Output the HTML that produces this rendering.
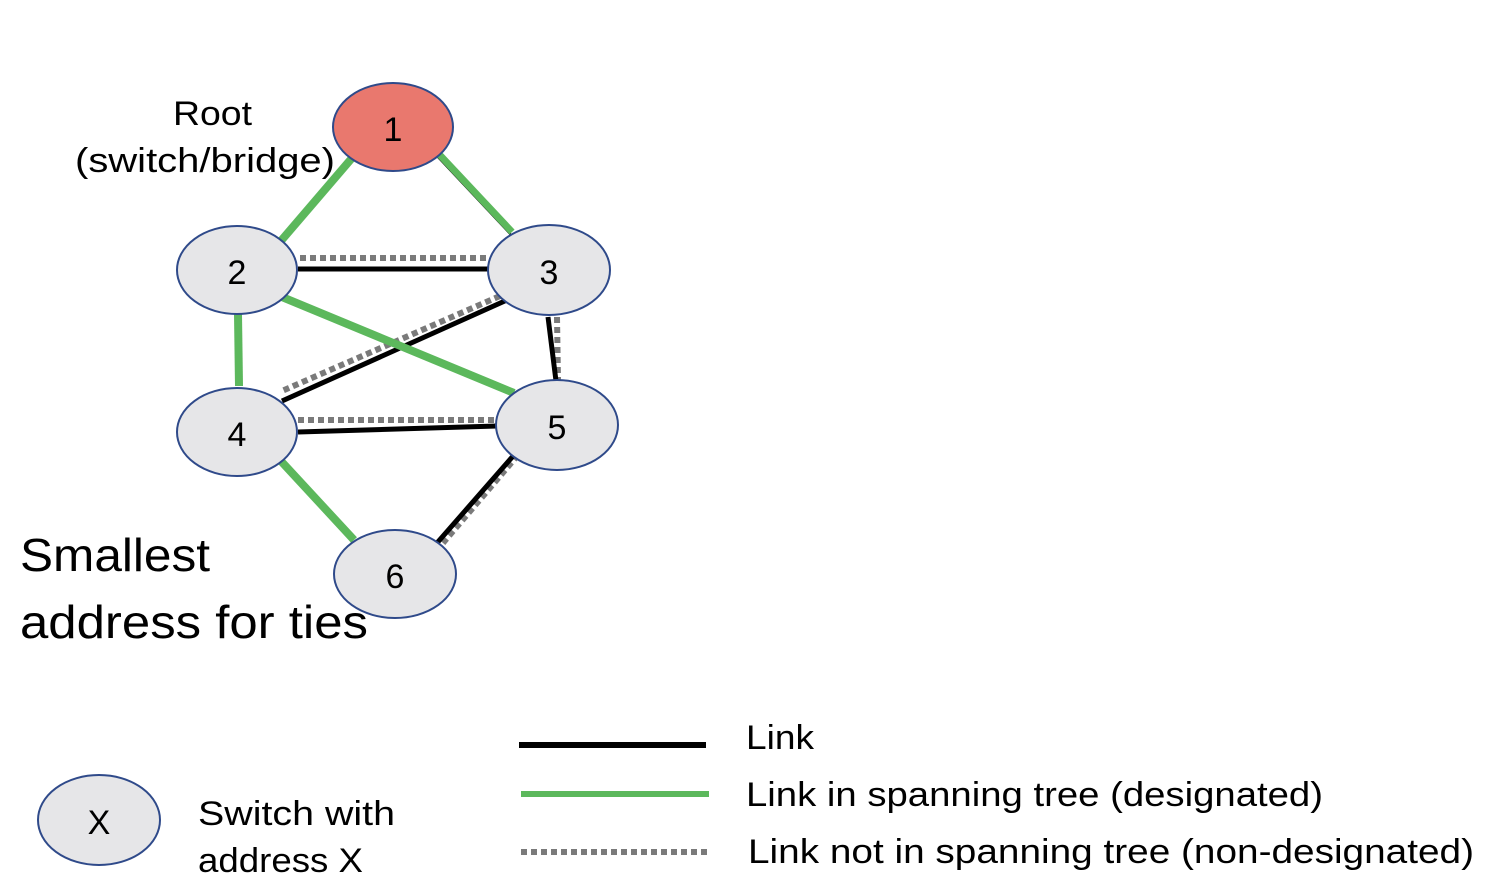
<!DOCTYPE html>
<html><head><style>html,body{margin:0;padding:0;background:#fff;}svg{display:block;}</style></head>
<body>
<svg width="1496" height="882" viewBox="0 0 1496 882" xmlns="http://www.w3.org/2000/svg" font-family="Liberation Sans, sans-serif" fill="#000">
<g stroke-linecap="butt">
<!-- 1-2 -->
<line x1="352" y1="158" x2="280" y2="242" stroke="#5cb85c" stroke-width="8"/>
<!-- 1-3 -->
<line x1="433" y1="152" x2="512" y2="236" stroke="#000" stroke-width="2"/>
<line x1="437" y1="152" x2="512" y2="232" stroke="#5cb85c" stroke-width="7"/>
<!-- 2-3 -->
<line x1="300" y1="258" x2="488" y2="258" stroke="#7a7a7a" stroke-width="6" stroke-dasharray="6,4"/>
<line x1="298" y1="269" x2="490" y2="269" stroke="#000" stroke-width="5"/>
<!-- 3-4 -->
<line x1="500" y1="296" x2="282" y2="391" stroke="#7a7a7a" stroke-width="6" stroke-dasharray="6,4"/>
<line x1="507" y1="300" x2="282" y2="401" stroke="#000" stroke-width="5"/>
<!-- 2-5 -->
<line x1="282" y1="297" x2="514" y2="393" stroke="#5cb85c" stroke-width="8"/>
<!-- 2-4 -->
<line x1="238" y1="314" x2="239" y2="386" stroke="#5cb85c" stroke-width="8"/>
<!-- 3-5 -->
<line x1="557" y1="317" x2="558" y2="380" stroke="#7a7a7a" stroke-width="6" stroke-dasharray="6,4"/>
<line x1="548" y1="317" x2="556" y2="381" stroke="#000" stroke-width="5"/>
<!-- 4-5 -->
<line x1="298" y1="420" x2="496" y2="420" stroke="#7a7a7a" stroke-width="6" stroke-dasharray="6,4"/>
<line x1="298" y1="432" x2="497" y2="426" stroke="#000" stroke-width="5"/>
<!-- 4-6 -->
<line x1="280" y1="460" x2="354" y2="540" stroke="#5cb85c" stroke-width="8"/>
<!-- 5-6 -->
<line x1="518" y1="455" x2="443" y2="543" stroke="#7a7a7a" stroke-width="6" stroke-dasharray="6,4"/>
<line x1="514" y1="455" x2="437" y2="543" stroke="#000" stroke-width="5"/>
</g>
<g stroke="#2f4a8a" stroke-width="2">
<ellipse cx="393" cy="127" rx="60" ry="44" fill="#e9786e"/>
<ellipse cx="237" cy="270" rx="60" ry="44" fill="#e6e6e8"/>
<ellipse cx="549" cy="270" rx="61" ry="45" fill="#e6e6e8"/>
<ellipse cx="237" cy="432" rx="60" ry="44" fill="#e6e6e8"/>
<ellipse cx="557" cy="425" rx="61" ry="45" fill="#e6e6e8"/>
<ellipse cx="395" cy="574" rx="61" ry="44" fill="#e6e6e8"/>
<ellipse cx="99" cy="820" rx="61" ry="45" fill="#e6e6e8"/>
</g>
<g font-size="34" text-anchor="middle">
<text x="393" y="141">1</text>
<text x="237" y="284">2</text>
<text x="549" y="284">3</text>
<text x="237" y="446">4</text>
<text x="557" y="439">5</text>
<text x="395" y="588">6</text>
<text x="99" y="834">X</text>
</g>
<g font-size="34">
<text x="173" y="125" textLength="79" lengthAdjust="spacingAndGlyphs">Root</text>
<text x="75" y="172" textLength="260" lengthAdjust="spacingAndGlyphs">(switch/bridge)</text>
<text x="198" y="825" textLength="197" lengthAdjust="spacingAndGlyphs">Switch with</text>
<text x="198" y="872" textLength="165" lengthAdjust="spacingAndGlyphs">address X</text>
<text x="746" y="749" textLength="68" lengthAdjust="spacingAndGlyphs">Link</text>
<text x="746" y="806" textLength="577" lengthAdjust="spacingAndGlyphs">Link in spanning tree (designated)</text>
<text x="748" y="863" textLength="726" lengthAdjust="spacingAndGlyphs">Link not in spanning tree (non-designated)</text>
</g>
<g font-size="46">
<text x="20" y="571" textLength="190" lengthAdjust="spacingAndGlyphs">Smallest</text>
<text x="20" y="638" textLength="348" lengthAdjust="spacingAndGlyphs">address for ties</text>
</g>
<line x1="519" y1="745" x2="706" y2="745" stroke="#000" stroke-width="6"/>
<line x1="521" y1="794" x2="709" y2="794" stroke="#5cb85c" stroke-width="6"/>
<line x1="521" y1="852" x2="709" y2="852" stroke="#7a7a7a" stroke-width="6" stroke-dasharray="6,4"/>
</svg>
</body></html>
